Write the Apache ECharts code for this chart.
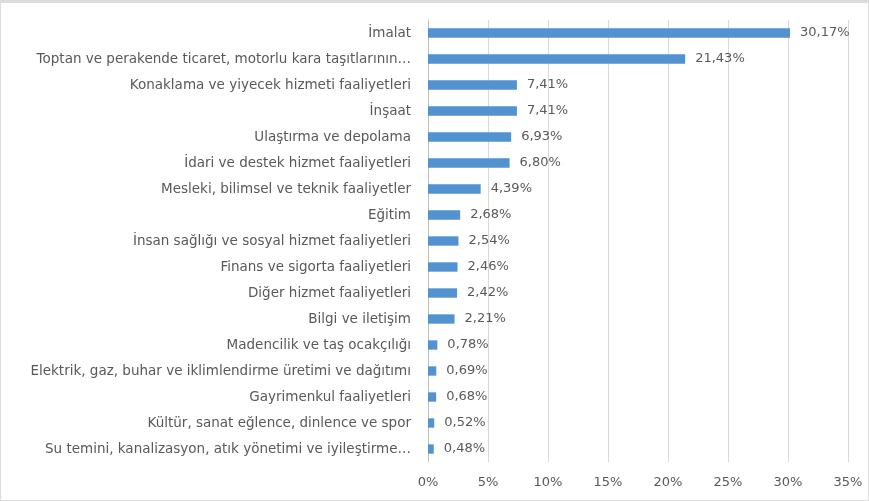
<!DOCTYPE html>
<html>
<head>
<meta charset="utf-8">
<script src="https://cdn.jsdelivr.net/npm/echarts@6/dist/echarts.min.js"></script>
<style>
    html, body { margin: 0; padding: 0; background: #fff; }
    #chart { width: 867px; height: 497px; border: 1px solid #dcdcdc; border-top-width: 3px; }
</style>
</head>
<body>
<div id="chart"></div>
<script>
// sektörler (yukarıdan aşağıya)
var sectors = [
    "İmalat",
    "Toptan ve perakende ticaret, motorlu kara taşıtlarının…",
    "Konaklama ve yiyecek hizmeti faaliyetleri",
    "İnşaat",
    "Ulaştırma ve depolama",
    "İdari ve destek hizmet faaliyetleri",
    "Mesleki, bilimsel ve teknik faaliyetler",
    "Eğitim",
    "İnsan sağlığı ve sosyal hizmet faaliyetleri",
    "Finans ve sigorta faaliyetleri",
    "Diğer hizmet faaliyetleri",
    "Bilgi ve iletişim",
    "Madencilik ve taş ocakçılığı",
    "Elektrik, gaz, buhar ve iklimlendirme üretimi ve dağıtımı",
    "Gayrimenkul faaliyetleri",
    "Kültür, sanat eğlence, dinlence ve spor",
    "Su temini, kanalizasyon, atık yönetimi ve iyileştirme…"
];

// paylar (%)
var shares = [30.17, 21.43, 7.41, 7.41, 6.93, 6.80, 4.39, 2.68, 2.54, 2.46, 2.42, 2.21, 0.78, 0.69, 0.68, 0.52, 0.48];

var font = "DejaVu Sans";
var textColor = "#595959";

var chart = echarts.init(document.getElementById("chart"));

var option = {
    animation: false,
    grid: {
        left: 427,
        right: 20,
        top: 17,
        bottom: 38
    },
    xAxis: {
        type: "value",
        min: 0,
        max: 35,
        interval: 5,
        axisLine: { show: false },
        axisTick: { show: false },
        axisLabel: {
            color: textColor,
            fontFamily: font,
            fontSize: 13,
            margin: 14,
            formatter: function (v) {
                return v + "%";
            }
        },
        splitLine: {
            lineStyle: { color: "#d9d9d9", width: 1 }
        }
    },
    yAxis: {
        type: "category",
        inverse: true,
        data: sectors,
        axisLine: {
            lineStyle: { color: "#bfbfbf" }
        },
        axisTick: { show: false },
        axisLabel: {
            color: textColor,
            fontFamily: font,
            fontSize: 13.5,
            margin: 17
        }
    },
    series: [
        {
            type: "bar",
            data: shares,
            barWidth: "36%",
            itemStyle: { color: "#5292d0" },
            label: {
                show: true,
                position: "right",
                distance: 10,
                color: textColor,
                fontFamily: font,
                fontSize: 13,
                formatter: function (p) {
                    return p.value.toFixed(2).replace(".", ",") + "%";
                }
            }
        }
    ]
};

chart.setOption(option);
</script>
</body>
</html>
